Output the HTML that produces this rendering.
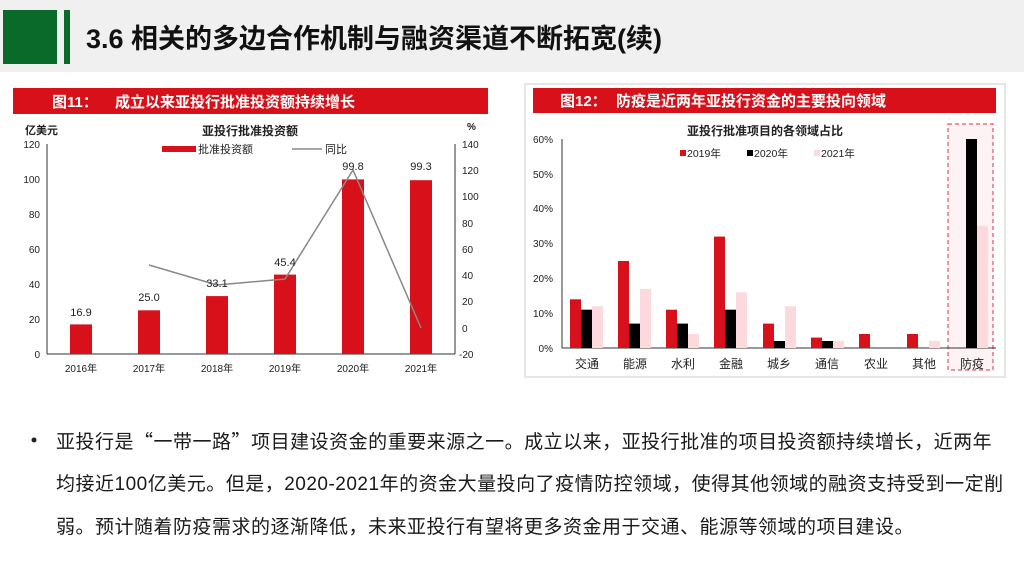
<!DOCTYPE html>
<html><head><meta charset="utf-8"><style>
body{margin:0;width:1024px;height:562px;overflow:hidden;background:#fff;font-family:"Liberation Sans","Noto Sans CJK SC",sans-serif;}
svg text{font-family:"Liberation Sans","Noto Sans CJK SC",sans-serif;}
.p{position:absolute;left:56px;font-size:19px;letter-spacing:0.5px;color:#1a1a1a;white-space:nowrap;}
.q{font-family:"Noto Sans CJK SC",sans-serif;}
</style></head><body>
<svg width="1024" height="562" style="position:absolute;left:0;top:0">
<rect x="0" y="0" width="1024" height="72" fill="#f0f0f0"/>
<rect x="3" y="10" width="54" height="54" fill="#0a6a2a"/>
<rect x="64" y="10" width="6" height="54" fill="#0a6a2a"/>
<text x="86" y="48" font-size="27" font-weight="bold" fill="#111">3.6 相关的多边合作机制与融资渠道不断拓宽(续)</text>
<rect x="13" y="88" width="475" height="26" fill="#d7101a"/>
<text x="52" y="107" font-size="15" font-weight="bold" fill="#fff">图11：</text>
<text x="115" y="107" font-size="15" font-weight="bold" fill="#fff">成立以来亚投行批准投资额持续增长</text>
<text x="25" y="134" font-size="11" font-weight="bold" fill="#222">亿美元</text>
<text x="467" y="130" font-size="10" font-weight="bold" fill="#222">%</text>
<text x="250" y="135" font-size="12" font-weight="bold" fill="#222" text-anchor="middle">亚投行批准投资额</text>
<rect x="162" y="146" width="34" height="6" fill="#d7101a"/>
<text x="198" y="153" font-size="11" fill="#222">批准投资额</text>
<line x1="292" y1="149" x2="322" y2="149" stroke="#888" stroke-width="1.5"/>
<text x="325" y="153" font-size="11" fill="#222">同比</text>
<g font-size="10" fill="#222" text-anchor="end">
<text x="40" y="148">120</text><text x="40" y="183">100</text><text x="40" y="218">80</text><text x="40" y="253">60</text><text x="40" y="288">40</text><text x="40" y="323">20</text><text x="40" y="358">0</text>
</g>
<g font-size="10" fill="#222">
<text x="462" y="148">140</text><text x="462" y="174">120</text><text x="462" y="200">100</text><text x="462" y="227">80</text><text x="462" y="253">60</text><text x="462" y="279">40</text><text x="462" y="305">20</text><text x="462" y="332">0</text><text x="459" y="358">-20</text>
</g>
<line x1="47" y1="144" x2="47" y2="354" stroke="#333"/>
<line x1="455" y1="144" x2="455" y2="354" stroke="#333"/>
<line x1="47" y1="354" x2="455" y2="354" stroke="#333"/>
<g fill="#d7101a">
<rect x="70" y="324.4" width="22" height="29.6"/>
<rect x="138" y="310.3" width="22" height="43.7"/>
<rect x="206" y="296.1" width="22" height="57.9"/>
<rect x="274" y="274.6" width="22" height="79.4"/>
<rect x="342" y="179.4" width="22" height="174.6"/>
<rect x="410" y="180.2" width="22" height="173.8"/>
</g>
<polyline points="149,265 217,285 285,279 353,170 421,328" fill="none" stroke="#888" stroke-width="1.5"/>
<g font-size="11" fill="#222" text-anchor="middle">
<text x="81" y="316">16.9</text><text x="149" y="301">25.0</text><text x="217" y="287">33.1</text><text x="285" y="266">45.4</text><text x="353" y="170">99.8</text><text x="421" y="170">99.3</text>
</g>
<g font-size="10" fill="#222" text-anchor="middle">
<text x="81" y="372">2016年</text><text x="149" y="372">2017年</text><text x="217" y="372">2018年</text><text x="285" y="372">2019年</text><text x="353" y="372">2020年</text><text x="421" y="372">2021年</text>
</g>
<rect x="525" y="84" width="480" height="293" fill="none" stroke="#e6e6e6" stroke-width="2"/>
<rect x="533" y="88" width="463" height="25" fill="#d7101a"/>
<text x="560" y="106" font-size="15" font-weight="bold" fill="#fff">图12：</text>
<text x="616" y="106" font-size="15" font-weight="bold" fill="#fff">防疫是近两年亚投行资金的主要投向领域</text>
<text x="765" y="135" font-size="12" font-weight="bold" fill="#222" text-anchor="middle">亚投行批准项目的各领域占比</text>
<rect x="680" y="150" width="6" height="6" fill="#d7101a"/><text x="687" y="157" font-size="10.5" fill="#222">2019年</text>
<rect x="747" y="150" width="6" height="6" fill="#000"/><text x="754" y="157" font-size="10.5" fill="#222">2020年</text>
<rect x="814" y="150" width="6" height="6" fill="#fbd9dc"/><text x="821" y="157" font-size="10.5" fill="#222">2021年</text>
<g font-size="10" fill="#222" text-anchor="end">
<text x="553" y="143">60%</text><text x="553" y="178">50%</text><text x="553" y="212">40%</text><text x="553" y="247">30%</text><text x="553" y="282">20%</text><text x="553" y="317">10%</text><text x="553" y="352">0%</text>
</g>
<rect x="948" y="124" width="45" height="246" fill="#fdf3f4" stroke="#e0303a" stroke-dasharray="4,3"/>
<line x1="562" y1="139" x2="562" y2="348" stroke="#333"/>
<line x1="562" y1="348" x2="996" y2="348" stroke="#333"/>
<g>
<rect x="570" y="299.3" width="11" height="48.7" fill="#d7101a"/><rect x="581" y="309.7" width="11" height="38.3" fill="#000"/><rect x="592" y="306.2" width="11" height="41.8" fill="#fbd9dc"/>
<rect x="618" y="261" width="11" height="87" fill="#d7101a"/><rect x="629" y="323.6" width="11" height="24.4" fill="#000"/><rect x="640" y="288.8" width="11" height="59.2" fill="#fbd9dc"/>
<rect x="666" y="309.7" width="11" height="38.3" fill="#d7101a"/><rect x="677" y="323.6" width="11" height="24.4" fill="#000"/><rect x="688" y="334" width="11" height="14" fill="#fbd9dc"/>
<rect x="714" y="236.6" width="11" height="111.4" fill="#d7101a"/><rect x="725" y="309.7" width="11" height="38.3" fill="#000"/><rect x="736" y="292.3" width="11" height="55.7" fill="#fbd9dc"/>
<rect x="763" y="323.6" width="11" height="24.4" fill="#d7101a"/><rect x="774" y="341" width="11" height="7" fill="#000"/><rect x="785" y="306.2" width="11" height="41.8" fill="#fbd9dc"/>
<rect x="811" y="337.6" width="11" height="10.4" fill="#d7101a"/><rect x="822" y="341" width="11" height="7" fill="#000"/><rect x="833" y="341" width="11" height="7" fill="#fbd9dc"/>
<rect x="859" y="334" width="11" height="14" fill="#d7101a"/>
<rect x="907" y="334" width="11" height="14" fill="#d7101a"/><rect x="929" y="341" width="11" height="7" fill="#fbd9dc"/>
<rect x="966" y="139" width="11" height="209" fill="#000"/><rect x="977" y="226" width="11" height="122" fill="#fbd9dc"/>
</g>
<g font-size="12" fill="#222" text-anchor="middle">
<text x="587" y="368">交通</text><text x="635" y="368">能源</text><text x="683" y="368">水利</text><text x="731" y="368">金融</text><text x="779" y="368">城乡</text><text x="827" y="368">通信</text><text x="876" y="368">农业</text><text x="924" y="368">其他</text><text x="972" y="368">防疫</text>
</g>
<circle cx="34" cy="440" r="2.5" fill="#222"/>
</svg>
<div class="p" style="top:427px">亚投行是<span class="q">“</span>一带一路<span class="q">”</span>项目建设资金的重要来源之一。成立以来，亚投行批准的项目投资额持续增长，近两年</div>
<div class="p" style="top:469px">均接近100亿美元。但是，2020-2021年的资金大量投向了疫情防控领域，使得其他领域的融资支持受到一定削</div>
<div class="p" style="top:512px">弱。预计随着防疫需求的逐渐降低，未来亚投行有望将更多资金用于交通、能源等领域的项目建设。</div>
</body></html>
